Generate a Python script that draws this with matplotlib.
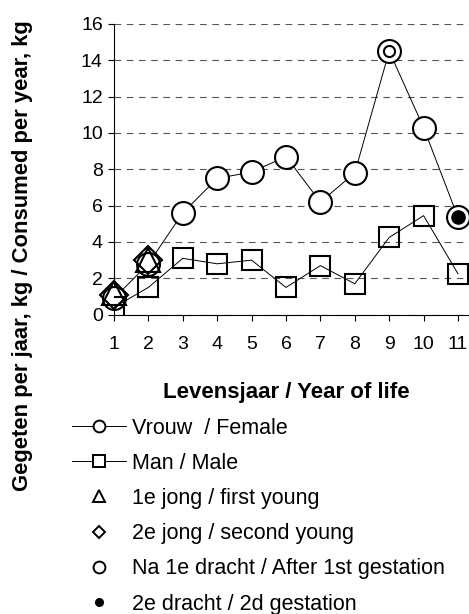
import numpy as np
import matplotlib
matplotlib.use("Agg")
import matplotlib.pyplot as plt
from matplotlib.lines import Line2D

plt.rcParams['font.family'] = ['Liberation Sans', 'DejaVu Sans']

# data
years = [1, 2, 3, 4, 5, 6, 7, 8, 9, 10, 11]
female = [0.9, 2.8, 5.6, 7.5, 7.85, 8.7, 6.2, 7.8, 14.5, 10.3, 5.35]
male = [0.4, 1.5, 3.1, 2.8, 3.0, 1.5, 2.7, 1.7, 4.25, 5.45, 2.25]
first_young_x = [1, 2]
first_young_y = [1.2, 3.0]
second_young_x = [1, 2]
second_young_y = [1.1, 3.0]
after_first_x = [9]
after_first_y = [14.5]
second_gest_x = [11]
second_gest_y = [5.35]

labels = ["Vrouw  / Female", "Man / Male", "1e jong / first young",
          "2e jong / second young", "Na 1e dracht / After 1st gestation",
          "2e dracht / 2d gestation"]

fig = plt.figure(figsize=(4.69, 6.14), dpi=100)
ax = fig.add_axes([0.243, 0.4875, 0.757, 0.4735])

ax.plot(years, female, color='black', lw=0.7, marker='o', ms=16.5,
        mfc='white', mec='black', mew=1.5, clip_on=False, zorder=3)
ax.plot(years, male, color='black', lw=0.7, marker='s', ms=14,
        mfc='none', mec='black', mew=1.5, zorder=3)
ax.plot(first_young_x, first_young_y, ls='none', marker='^', ms=17,
        mfc='none', mec='black', mew=1.5, clip_on=False, zorder=4)
ax.plot(second_young_x, second_young_y, ls='none', marker='D', ms=14.5,
        mfc='none', mec='black', mew=1.5, clip_on=False, zorder=4)
ax.plot(after_first_x, after_first_y, ls='none', marker='o', ms=8,
        mfc='white', mec='black', mew=1.5, clip_on=False, zorder=5)
ax.plot(second_gest_x, second_gest_y, ls='none', marker='o', ms=9.5,
        mfc='black', mec='black', clip_on=False, zorder=5)

ax.set_xlim(1, 11.32)
ax.set_ylim(0, 16)
ax.set_xticks(years)
ax.set_yticks(np.arange(0, 17, 2))
ax.tick_params(labelsize=14, direction='out', length=4, width=0.8)
ax.tick_params(axis='x', pad=11)
ax.tick_params(axis='y', pad=4)
ax.grid(axis='y', color='#555555', ls=(0, (6, 5)), lw=0.8)
ax.set_axisbelow(True)
for s in ['top', 'right']:
    ax.spines[s].set_visible(False)
for s in ['left', 'bottom']:
    ax.spines[s].set_linewidth(0.8)

ax.set_xlabel("Levensjaar / Year of life", fontsize=16, fontweight='bold')
ax.xaxis.set_label_coords(0.5 - 5 / 355, -0.23)
fig.text(0.047, 0.583, "Gegeten per jaar, kg / Consumed per year, kg",
         rotation=90, ha='center', va='center', fontsize=15.8,
         fontweight='bold')

handles = [
    Line2D([], [], color='black', lw=0.7, marker='o', ms=8.5, mfc='white', mew=1.4),
    Line2D([], [], color='black', lw=0.7, marker='s', ms=8.5, mfc='white', mew=1.4),
    Line2D([], [], ls='none', marker='^', ms=9, mfc='white', mec='black', mew=1.4),
    Line2D([], [], ls='none', marker='D', ms=6.5, mfc='white', mec='black', mew=1.4),
    Line2D([], [], ls='none', marker='o', ms=8.5, mfc='white', mec='black', mew=1.4),
    Line2D([], [], ls='none', marker='o', ms=5.5, mfc='black', mec='black'),
]
fig.legend(handles, labels, loc='upper left', bbox_to_anchor=(0.1535, 0.32),
           frameon=False, fontsize=15.5, handlelength=2.5, handletextpad=0.3,
           labelspacing=0.66, borderaxespad=0, borderpad=0)

fig.savefig("out.png", dpi=100)
